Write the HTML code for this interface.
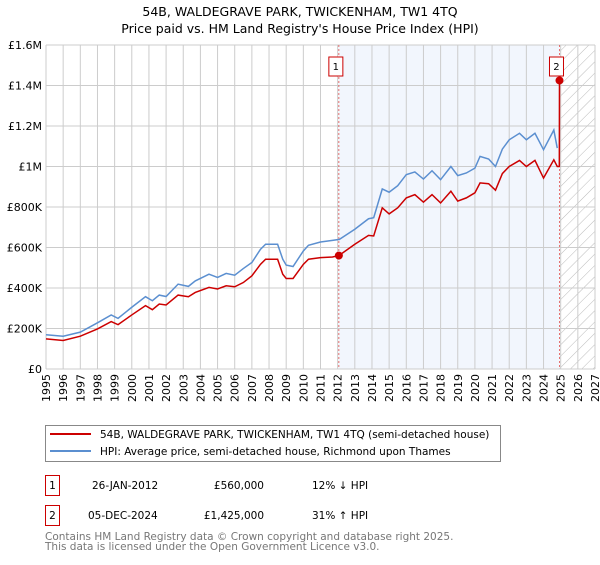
<!DOCTYPE html>
<html><head><meta charset="utf-8"><style>
body{margin:0;background:#fff;}
svg text{font-family:"DejaVu Sans","Liberation Sans",sans-serif;}
</style></head><body>
<svg id="chart" width="600" height="560" xmlns="http://www.w3.org/2000/svg">
<defs>
<pattern id="hatch" patternUnits="userSpaceOnUse" width="8" height="8" patternTransform="rotate(45)">
<line x1="0" y1="0" x2="0" y2="8" stroke="#bbb" stroke-width="1"/></pattern>
</defs>
<text x="300" y="16" text-anchor="middle" font-size="12.5">54B, WALDEGRAVE PARK, TWICKENHAM, TW1 4TQ</text>
<text x="300" y="33" text-anchor="middle" font-size="12.5">Price paid vs. HM Land Registry's House Price Index (HPI)</text>
<g id="plot"></g>
<g>
<rect x="45.5" y="425.5" width="455" height="36" fill="#fff" stroke="#888"/>
<line x1="50" y1="434" x2="91" y2="434" stroke="#cc0000" stroke-width="2"/>
<text x="100" y="438" font-size="10.5">54B, WALDEGRAVE PARK, TWICKENHAM, TW1 4TQ (semi-detached house)</text>
<line x1="50" y1="451" x2="91" y2="451" stroke="#5b8fd0" stroke-width="2"/>
<text x="100" y="455" font-size="10.5">HPI: Average price, semi-detached house, Richmond upon Thames</text>
</g>
<g font-size="10.5">
<rect x="45.5" y="475.5" width="14" height="20" fill="#fff" stroke="#cc0000"/>
<text x="52.5" y="489" text-anchor="middle">1</text>
<text x="92" y="489">26-JAN-2012</text>
<text x="264" y="489" text-anchor="end">£560,000</text>
<text x="312" y="489">12% ↓ HPI</text>
</g>
<g font-size="10.5">
<rect x="45.5" y="505.5" width="14" height="20" fill="#fff" stroke="#cc0000"/>
<text x="52.5" y="519" text-anchor="middle">2</text>
<text x="88" y="519">05-DEC-2024</text>
<text x="264" y="519" text-anchor="end">£1,425,000</text>
<text x="312" y="519">31% ↑ HPI</text>
</g>
<text x="45" y="540" font-size="10.5" fill="#777">Contains HM Land Registry data © Crown copyright and database right 2025.</text>
<text x="45" y="550" font-size="10.5" fill="#777">This data is licensed under the Open Government Licence v3.0.</text>
</svg>
<script>
const hpiYears=[1995.0,1996.0,1997.0,1998.0,1998.8,1999.2,2000.0,2000.8,2001.2,2001.6,2002.0,2002.7,2003.3,2003.7,2004.5,2005.0,2005.5,2006.0,2006.5,2007.0,2007.5,2007.8,2008.5,2008.8,2009.0,2009.4,2010.0,2010.3,2011.0,2011.7,2012.1,2013.0,2013.8,2014.1,2014.6,2015.0,2015.5,2016.0,2016.5,2017.0,2017.5,2018.0,2018.6,2019.0,2019.5,2020.0,2020.3,2020.8,2021.2,2021.6,2022.0,2022.6,2023.0,2023.5,2024.0,2024.6,2024.8];
const hpiValues=[169,162,182,228,267,250,305,357,337,365,358,419,408,435,468,452,472,463,496,526,591,616,616,542,513,506,583,611,627,635,640,690,742,747,889,873,905,960,973,938,979,935,1000,955,968,992,1050,1037,1000,1086,1132,1164,1132,1164,1083,1180,1091];
const priceYears=[1995.0,1996.0,1997.0,1998.0,1998.8,1999.2,2000.0,2000.8,2001.2,2001.6,2002.0,2002.7,2003.3,2003.7,2004.5,2005.0,2005.5,2006.0,2006.5,2007.0,2007.5,2007.8,2008.5,2008.8,2009.0,2009.4,2010.0,2010.3,2011.0,2011.7,2012.07,2013.0,2013.8,2014.1,2014.6,2015.0,2015.5,2016.0,2016.5,2017.0,2017.5,2018.0,2018.6,2019.0,2019.5,2020.0,2020.3,2020.8,2021.2,2021.6,2022.0,2022.6,2023.0,2023.5,2024.0,2024.6,2024.8,2024.92,2024.93];
const priceValues=[149,141,162,198,234,219,267,313,293,321,316,365,357,378,403,395,411,406,427,460,517,542,542,468,447,447,517,542,550,553,560,616,660,657,796,766,796,845,861,824,861,820,878,829,845,870,919,915,883,965,1000,1030,1000,1030,943,1033,1000,1000,1425];
const saleYears=[2012.07,2024.93];
const saleValues=[560,1425];
const saleLabels=["1","2"];
const yTicks=[0,200,400,600,800,1000,1200,1400,1600];
const yTickLabels=["£0","£200K","£400K","£600K","£800K","£1M","£1.2M","£1.4M","£1.6M"];
const xTicks=[1995,1996,1997,1998,1999,2000,2001,2002,2003,2004,2005,2006,2007,2008,2009,2010,2011,2012,2013,2014,2015,2016,2017,2018,2019,2020,2021,2022,2023,2024,2025,2026,2027];

const X0=46,X1=595,Y0=369,Y1=45;
const xs=y=>X0+(y-1995)/(2027-1995)*(X1-X0);
const ys=v=>Y0-v/1600*(Y0-Y1);
const NS="http://www.w3.org/2000/svg";
const g=document.getElementById('plot');
function mk(t,a,p){const e=document.createElementNS(NS,t);for(const k in a)e.setAttribute(k,a[k]);(p||g).appendChild(e);return e;}

const shade=mk('rect',{x:xs(saleYears[0]),y:Y1,width:xs(saleYears[1])-xs(saleYears[0]),height:Y0-Y1,fill:'#f2f6fd'});


const hat=mk('rect',{x:xs(saleYears[1]),y:Y1,width:X1-xs(saleYears[1]),height:Y0-Y1,fill:'url(#hatch)'});



xTicks.forEach((t,i)=>{
  const l=mk('line',{x1:xs(t),x2:xs(t),y1:Y1,y2:Y0,stroke:'#ccc','stroke-width':1});
  
  
  const tx=mk('text',{x:0,y:0,'font-size':11,'text-anchor':'end',transform:`translate(${xs(t)+4},${Y0+5}) rotate(-90)`});
  tx.textContent=t;
  
  
});
yTicks.forEach((t,i)=>{
  const l=mk('line',{x1:X0,x2:X1,y1:ys(t),y2:ys(t),stroke:'#ccc','stroke-width':1});
  
  
  const tx=mk('text',{x:X0-4,y:ys(t)+4,'font-size':11,'text-anchor':'end'});
  tx.textContent=yTickLabels[i];
  
  
});
saleYears.forEach((s,i)=>{
  const l=mk('line',{x1:xs(s),x2:xs(s),y1:Y1,y2:Y0,stroke:'#e05050','stroke-width':0.8,'stroke-dasharray':'2,2'});
  
  
  const bx=xs(s)-(i==0?3:3);
  const r=mk('rect',{x:bx-7,y:57,width:14,height:19,fill:'#fff',stroke:'#cc0000'});
  
  
  const tx=mk('text',{x:bx,y:70,'font-size':10,'text-anchor':'middle'});
  tx.textContent=saleLabels[i];
  
  
});
const hp=mk('polyline',{points:hpiYears.map((y,i)=>xs(y)+','+ys(hpiValues[i])).join(' '),fill:'none',stroke:'#5b8fd0','stroke-width':1.5});


const pp=mk('polyline',{points:priceYears.map((y,i)=>xs(y)+','+ys(priceValues[i])).join(' '),fill:'none',stroke:'#cc0000','stroke-width':1.5});


saleYears.forEach((s,i)=>{
  const c=mk('circle',{cx:xs(s),cy:ys(saleValues[i]),r:4,fill:'#cc0000'});
  
  
});
</script>
</body></html>
